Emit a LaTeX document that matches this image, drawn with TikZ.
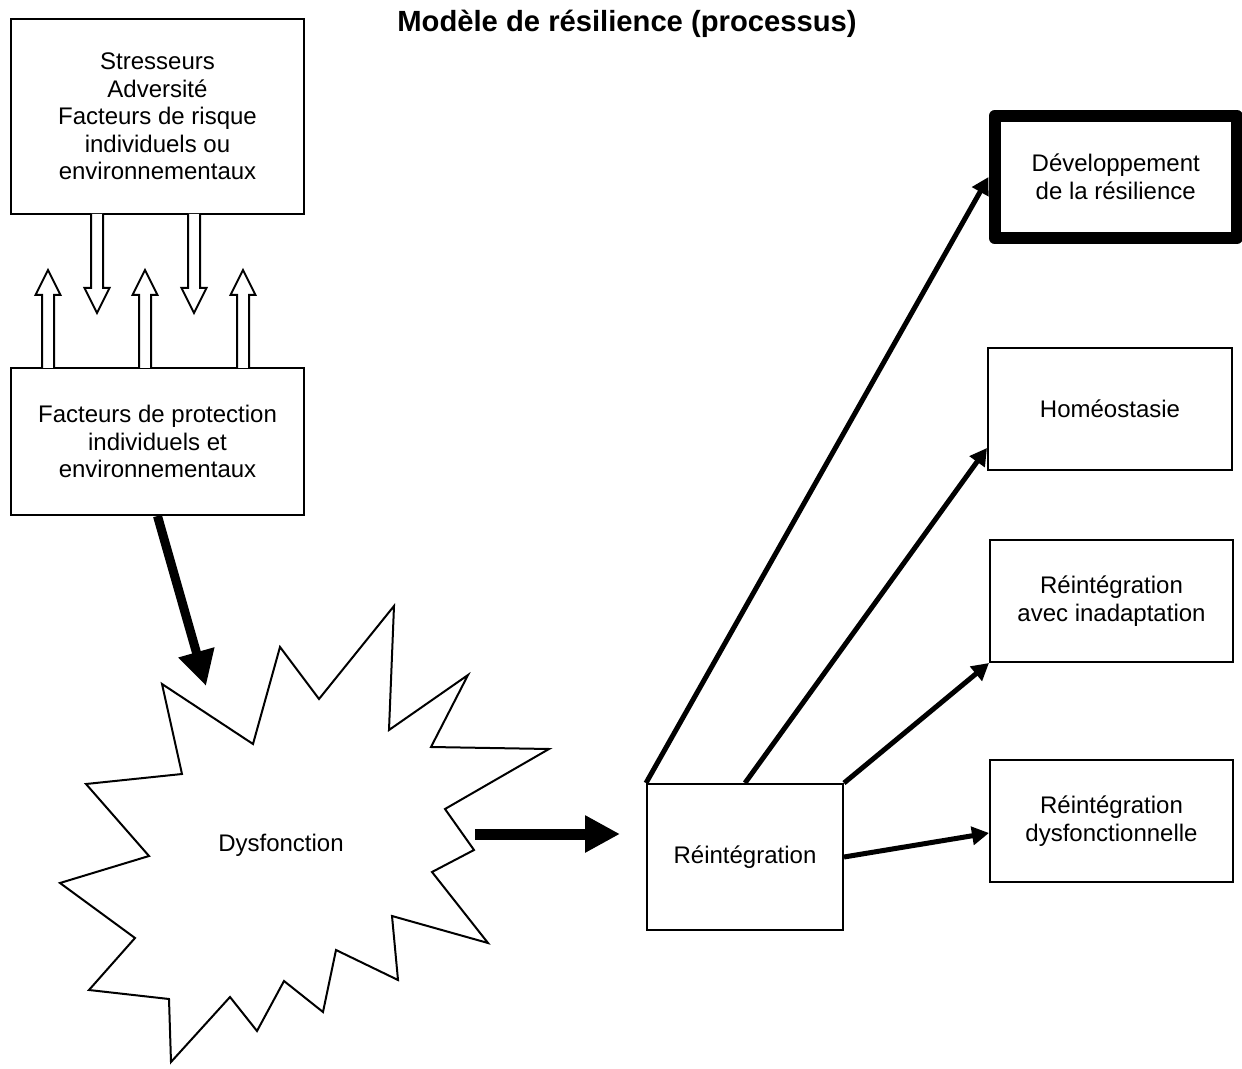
\documentclass[tikz,border=0pt]{standalone}
\usepackage{fontspec}
\setmainfont{Liberation Sans}
\usepackage{tikz}
\usetikzlibrary{arrows.meta}

\begin{document}
\begin{tikzpicture}[x=0.5pt,y=-0.5pt,
    font=\fontsize{12}{13.8}\selectfont,
    box/.style={draw,line width=1pt,align=center,inner sep=0pt},
    hollow/.style={draw,line width=1pt,fill=white,line join=miter},
    outarrow/.style={line width=2.5pt,-{Triangle[length=8.5pt,width=9pt]}},
    bigarrow/.style={line width=4.5pt,-{Triangle[length=17.5pt,width=17.5pt]}}]
  \useasboundingbox (0,0) rectangle (1242,1069);

  \node (title) at (627,24) {\fontsize{14.6}{17}\selectfont\bfseries Modèle de résilience (processus)};

  \node[box,minimum width=146.5pt,minimum height=97.5pt] (stress) at (157.5,116.5)
    {Stresseurs\\Adversité\\Facteurs de risque\\individuels ou\\environnementaux};
  \node[box,minimum width=146.5pt,minimum height=73.5pt] (protect) at (157.5,441.5)
    {Facteurs de protection\\individuels et\\environnementaux};

  \foreach \c in {97,194}
    \draw[hollow] (\c-6,214) -- (\c-6,288) -- (\c-12.5,288) -- (\c,313)
      -- (\c+12.5,288) -- (\c+6,288) -- (\c+6,214);
  \foreach \c in {48,145,243}
    \draw[hollow] (\c-6,368) -- (\c-6,295) -- (\c-12.5,295) -- (\c,270)
      -- (\c+12.5,295) -- (\c+6,295) -- (\c+6,368);

  \draw[line width=1pt,line join=miter] (162,684) -- (253,744) -- (280,647) -- (319,699)
    -- (394,606) -- (389,730) -- (468,675) -- (431,747) -- (549,749) -- (445,809)
    -- (474,850) -- (432,872) -- (488,943) -- (392,916) -- (398,980) -- (336,950)
    -- (323,1012) -- (284,981) -- (257,1031) -- (230,997) -- (171,1062) -- (169,999)
    -- (89,990) -- (135,938) -- (60,883) -- (149,856) -- (86,784) -- (182,774) -- cycle;
  \node (dysf) at (281,845) {Dysfonction};

  \node[box,minimum width=98pt,minimum height=73pt] (reint) at (745,857) {Réintégration};
  \node[box,line width=6pt,line join=round,minimum width=121.25pt,minimum height=61pt] (devel)
    at (1115.75,177) {Développement\\de la résilience};
  \node[box,minimum width=122pt,minimum height=61pt] (homeo) at (1110,409) {Homéostasie};
  \node[box,minimum width=121.5pt,minimum height=61pt] (inadapt) at (1111.5,601)
    {Réintégration\\avec inadaptation};
  \node[box,minimum width=121.5pt,minimum height=61pt] (dysfun) at (1111.5,821)
    {Réintégration\\dysfonctionnelle};

  \coordinate (hit) at (206,686);
  \coordinate (burstout) at (475,834);
  \coordinate (reintin) at (620,834);
  \draw[bigarrow] (protect.south) -- (hit);
  \draw[bigarrow,line width=5.5pt] (burstout) -- (reintin);

  \path[outarrow]
    (reint.north west) edge (devel.west)
    (reint.north) edge ([yshift=11.5pt]homeo.south west)
    (reint.north east) edge (inadapt.south west)
    (reint.east) edge ([yshift=-6pt]dysfun.west);
\end{tikzpicture}
\end{document}
